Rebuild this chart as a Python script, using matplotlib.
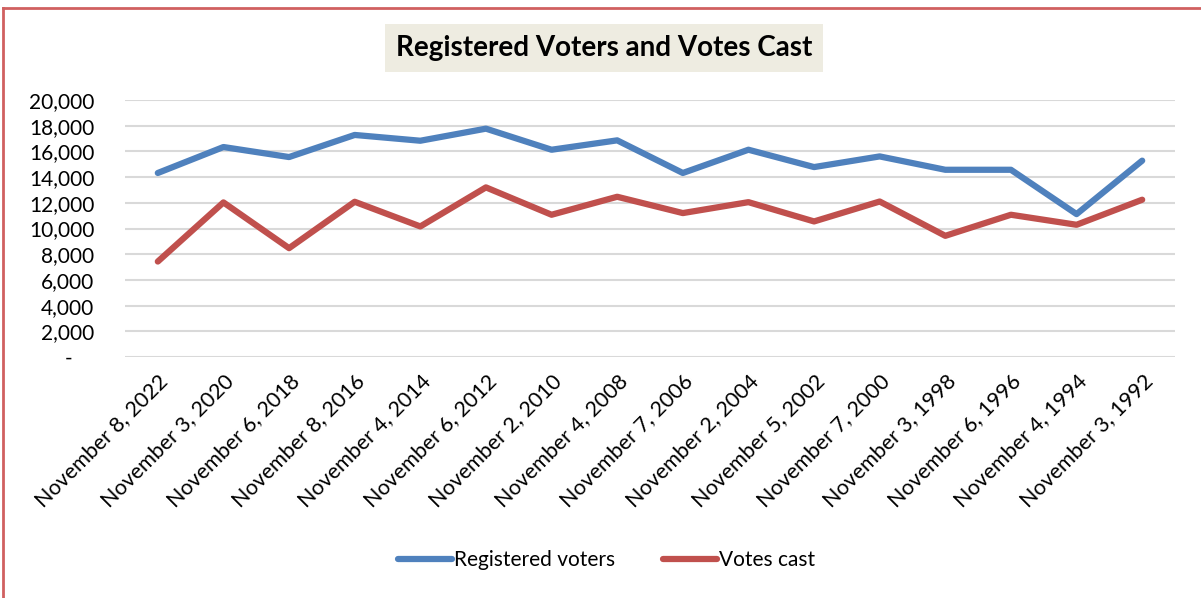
import numpy as np
import matplotlib
matplotlib.use("Agg")
import matplotlib.pyplot as plt
from matplotlib.lines import Line2D
from matplotlib.ticker import FuncFormatter

dates = ["November 8, 2022", "November 3, 2020", "November 6, 2018", "November 8, 2016",
         "November 4, 2014", "November 6, 2012", "November 2, 2010", "November 4, 2008",
         "November 7, 2006", "November 2, 2004", "November 5, 2002", "November 7, 2000",
         "November 3, 1998", "November 6, 1996", "November 4, 1994", "November 3, 1992"]
registered = [14320, 16340, 15560, 17280, 16830, 17770, 16130, 16860,
              14320, 16130, 14780, 15610, 14570, 14570, 11120, 15280]
votes_cast = [7430, 12030, 8470, 12080, 10160, 13200, 11070, 12470,
              11200, 12050, 10550, 12100, 9430, 11070, 10290, 12240]

plt.rcParams['font.family'] = ['Lato', 'DejaVu Sans']

fig = plt.figure(figsize=(12.01, 5.98), dpi=100)
ax = fig.add_axes([125 / 1201, 1 - 357 / 598, 1050 / 1201, 257 / 598])

x = np.arange(len(dates))
ax.plot(x, registered, color='#4F81BD', lw=4.5, solid_capstyle='round', label='Registered voters')
ax.plot(x, votes_cast, color='#C0504D', lw=4.5, solid_capstyle='round', label='Votes cast')

ax.set_xlim(-0.5, len(dates) - 0.5)
ax.set_ylim(0, 20000)
ax.set_yticks(np.arange(0, 20001, 2000))
# accounting-style zero shows as a dash set in from the right
ax.yaxis.set_major_formatter(FuncFormatter(lambda v, p: '-    ' if v == 0 else f'{int(v):,}'))
ax.grid(axis='y', color='#D9D9D9', lw=1.5)
ax.set_axisbelow(True)
for s in ax.spines.values():
    s.set_visible(False)
ax.tick_params(axis='both', length=0, colors='black')
ax.tick_params(axis='y', pad=22, labelsize=15)
ax.set_xticks(x)
ax.set_xticklabels(dates, rotation=45, ha='right', rotation_mode='anchor', fontsize=15.5)
ax.tick_params(axis='x', pad=10)

fig.text(0.503, 1 - 48 / 598, 'Registered Voters and Votes Cast', ha='center', va='center',
         fontsize=20, fontweight='bold',
         bbox=dict(facecolor='#EEECE1', edgecolor='none', boxstyle='square,pad=0.4'))

fig.legend(loc='center', bbox_to_anchor=(0.505, 1 - 560 / 598), ncol=2, frameon=False,
           fontsize=15, handlelength=2.6, handletextpad=0.1, columnspacing=2.3)

fig.add_artist(Line2D([3 / 1201, 1], [1 - 8 / 598, 1 - 8 / 598], color='#D06060', lw=2))
fig.add_artist(Line2D([3 / 1201, 3 / 1201], [0, 1 - 8 / 598], color='#D06060', lw=2))

fig.savefig('out.png', dpi=100, facecolor='white')
